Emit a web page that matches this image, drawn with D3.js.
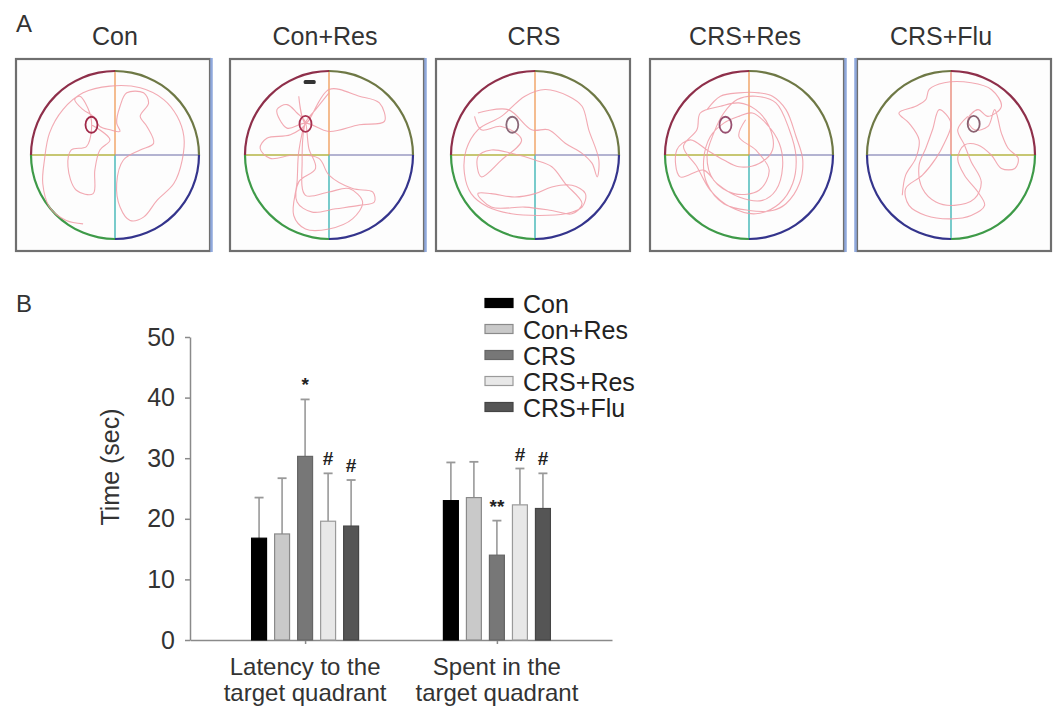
<!DOCTYPE html>
<html>
<head>
<meta charset="utf-8">
<script src="https://cdn.jsdelivr.net/npm/d3@7/dist/d3.min.js"></script>
<style>
  body { margin: 0; background: #fff; }
  svg { display: block; font-family: "Liberation Sans", Arial, sans-serif; }
</style>
</head>
<body>
<svg width="1063" height="726"></svg>
<script>
// ---- panel A data: swim tracks, in a 0-100 pool grid (50,50 = pool centre, radius 50)
var poolTitles = ["Con", "Con+Res", "CRS", "CRS+Res", "CRS+Flu"];

var trackCon = [[31,91],[21,89],[11,81],[7,67],[8,53],[11,37],[19,23],[31,13],[47,9],[65,10],[79,17],[87,27],
  [91,39],[90,53],[85,67],[75,77],[67,87],[59,89],[53,81],[51,67],[55,53],[65,47],[73,43],[69,33],[65,27],
  [70,19],[67,13],[57,13],[53,21],[51,31],[53,36],[47,35],[41,33],[37,27],[31,23],[26,17],[29,15],[35,25],
  [36,35],[33,45],[24,47],[22,57],[27,71],[37,73],[38,59],[41,47],[47,41],[36,32]];

var trackConRes = [[32,15],[36,31],[50,11],[68,15],[80,19],[83,30],[68,32],[50,36],[36,31],[25,34],[19,23],
  [25,20],[31,25],[36,31],[27,38],[13,40],[9,46],[15,52],[29,50],[44,52],[50,62],[64,70],[76,72],[77,78],
  [68,80],[54,82],[40,84],[31,78],[32,66],[42,58],[38,46],[36,31],[32,48],[31,66],[29,86],[36,94],[50,94],
  [64,88],[70,78],[62,70],[50,72],[36,74],[34,54],[36,31],[42,23],[50,13]];

var trackCRS = [[16,25],[34,23],[48,35],[58,35],[68,43],[78,49],[84,55],[87,63],[88,53],[82,35],[78,21],
  [70,15],[56,11],[44,15],[30,27],[16,35],[9,47],[8,61],[12,73],[22,81],[36,85],[52,86],[68,85],[78,81],
  [80,73],[72,68],[60,69],[50,73],[38,75],[24,73],[16,73],[24,81],[44,81],[60,83],[72,85],[78,79],[68,67],
  [60,57],[50,53],[36,49],[24,47],[16,51],[18,63],[30,53],[42,41],[30,33],[18,35],[14,27]];

var trackCRSRes = [[25,23],[33,15],[44,13],[56,13],[64,15],[72,23],[78,39],[82,53],[80,67],[72,79],[64,83],
  [50,83],[35,79],[25,67],[23,53],[27,39],[35,31],[44,27],[52,25],[60,31],[68,43],[70,57],[66,71],[58,77],
  [44,75],[31,67],[23,59],[9,63],[7,47],[15,41],[25,47],[35,53],[44,57],[56,55],[64,47],[62,33],[54,23],
  [44,19],[33,21],[21,25],[19,35],[11,45],[19,57],[27,71],[39,81],[54,85],[68,79],[76,67],[78,51],[74,35],
  [66,19],[54,15],[43,17],[35,25],[29,37],[25,51],[29,65],[41,73],[56,71],[62,59],[54,47],[44,39],[48,29]];

var trackCRSFlu = [[21,74],[23,62],[29,52],[31,41],[25,31],[19,25],[29,21],[35,17],[37,11],[46,7],[62,7],
  [74,11],[80,21],[72,27],[66,23],[60,29],[64,35],[72,33],[76,23],[80,37],[84,46],[90,52],[88,58],[80,58],
  [74,50],[66,44],[58,44],[54,52],[58,62],[66,72],[70,80],[62,86],[50,88],[35,86],[25,80],[23,70],[33,62],
  [41,52],[46,43],[50,31],[43,23],[39,35],[35,46],[31,56],[33,70],[41,78],[52,80],[64,76],[68,66],[62,54],
  [58,44],[54,35],[60,27]];

var tracks = [trackCon, trackConRes, trackCRS, trackCRSRes, trackCRSFlu];
var platforms = [[36, 32], [36, 31.5], [36.5, 32], [36, 32], [63.5, 31.5]];
var markerConRes = [38.5, 6.5];

// ---- panel B data
var series = ["Con", "Con+Res", "CRS", "CRS+Res", "CRS+Flu"];
var groups = ["latency", "spent"];
var groupLabels = [["Latency to the", "target quadrant"], ["Spent in the", "target quadrant"]];
var latencyMean = [16.8, 17.5, 30.3, 19.6, 18.8];
var latencySD = [6.7, 9.2, 9.4, 7.9, 7.6];
var spentMean = [23.0, 23.5, 14.0, 22.3, 21.7];
var spentSD = [6.3, 5.9, 5.7, 6.0, 5.8];
var latencyMarks = ["", "", "*", "#", "#"];
var spentMarks = ["", "", "**", "#", "#"];
var yTicks = [0, 10, 20, 30, 40, 50];

var svg = d3.select("svg");
var textCol = "#333";

// ================= panel A =================
svg.append("text").attr("x", 16).attr("y", 32).attr("font-size", 24).attr("fill", textCol).text("A");

var boxLeft = [16, 230, 436, 650, 857],
  poolCx = [115, 329, 535, 749, 951],
  titleX = [115, 325, 534, 745, 941],
  blueEdge = ["right", "right", null, "right", "left"],
  boxW = 194, boxTop = 59, boxH = 192, poolCy = 155, R = 84;

var quadNormal = ["#8e2f4a", "#6e7845", "#34348c", "#3e9a48"],   // TL, TR, BR, BL
  quadFlip = ["#6e7845", "#8e2f4a", "#3e9a48", "#34348c"];
var lineNormal = {top: "#f0a060", right: "#9a9ac2", bottom: "#3fb5b5", left: "#b5b545"},
  lineFlip = {top: "#e88a7a", right: "#b5b545", bottom: "#3fb5b5", left: "#9a9ac2"};
var platCol = ["#a02848", "#a83050", "#8a6878", "#985070", "#8a6070"];

var arc = d3.arc().innerRadius(R - 1.1).outerRadius(R + 1.1);

poolTitles.forEach(function(title, i) {
  var g = svg.append("g");
  var x = d3.scaleLinear().domain([0, 100]).range([poolCx[i] - R, poolCx[i] + R]);
  var y = d3.scaleLinear().domain([0, 100]).range([poolCy - R, poolCy + R]);

  g.append("text").attr("x", titleX[i]).attr("y", 45).attr("text-anchor", "middle")
    .attr("font-size", 25).attr("fill", textCol).text(title);

  g.append("rect").attr("x", boxLeft[i]).attr("y", boxTop).attr("width", boxW).attr("height", boxH)
    .attr("fill", "#fdfdfd").attr("stroke", "#6f6f6f").attr("stroke-width", 2.2);
  if (blueEdge[i]) {
    var ex = blueEdge[i] === "right" ? boxLeft[i] + boxW + 1.5 : boxLeft[i] - 1.5;
    g.append("line").attr("x1", ex).attr("x2", ex).attr("y1", boxTop - 1).attr("y2", boxTop + boxH + 1)
      .attr("stroke", "#8fa8dc").attr("stroke-width", 2.5);
  }

  var lc = i === 4 ? lineFlip : lineNormal;
  var cx = x(50), cy = y(50);
  [["top", cx, y(0)], ["bottom", cx, y(100)], ["left", x(0), cy], ["right", x(100), cy]].forEach(function(s) {
    g.append("line").attr("x1", cx).attr("y1", cy).attr("x2", s[1]).attr("y2", s[2])
      .attr("stroke", lc[s[0]]).attr("stroke-width", 1.4);
  });

  var qc = i === 4 ? quadFlip : quadNormal;
  var angles = [[-Math.PI / 2, 0], [0, Math.PI / 2], [Math.PI / 2, Math.PI], [Math.PI, 1.5 * Math.PI]];
  angles.forEach(function(a, k) {
    g.append("path").attr("transform", "translate(" + cx + "," + cy + ")")
      .attr("d", arc({startAngle: a[0], endAngle: a[1]})).attr("fill", qc[k]);
  });

  var line = d3.line().curve(d3.curveCatmullRom.alpha(0.5))
    .x(function(d) { return x(d[0]); }).y(function(d) { return y(d[1]); });
  g.append("path").attr("d", line(tracks[i])).attr("fill", "none")
    .attr("stroke", "#f09aa4").attr("stroke-width", 1.1).attr("opacity", 0.85);

  var p = platforms[i];
  g.append("ellipse").attr("cx", x(p[0])).attr("cy", y(p[1])).attr("rx", 6).attr("ry", 8)
    .attr("fill", "none").attr("stroke", platCol[i]).attr("stroke-width", 1.8);
  if (i === 1) {
    g.append("rect").attr("x", x(markerConRes[0]) - 6).attr("y", y(markerConRes[1]) - 2)
      .attr("width", 12).attr("height", 4).attr("rx", 1.5).attr("fill", "#333");
  }
});

// ================= panel B =================
svg.append("text").attr("x", 16).attr("y", 312).attr("font-size", 24).attr("fill", textCol).text("B");

var yScale = d3.scaleLinear().domain([0, 50]).range([640, 337]);
var xGroup = d3.scalePoint().domain(groups).range([190, 612]).padding(0.6);
var xBar = d3.scaleBand().domain(series).range([-53.5, 53.5]).paddingInner(0.35);

var fills = ["#000000", "#c9c9c9", "#777777", "#e8e8e8", "#555555"],
  strokes = ["#000000", "#8a8a8a", "#666666", "#9a9a9a", "#454545"];

var yAxis = svg.append("g").attr("transform", "translate(190,0)")
  .call(d3.axisLeft(yScale).tickValues(yTicks).tickSize(5).tickSizeOuter(0).tickPadding(10));
yAxis.selectAll("text").attr("font-size", 25).attr("fill", textCol).attr("font-family", "Liberation Sans, Arial");
yAxis.selectAll("line, path").attr("stroke", "#8a8a8a").attr("stroke-width", 1.5);

var xAxis = svg.append("g").attr("transform", "translate(0,640)")
  .call(d3.axisBottom(xGroup).tickSize(4).tickSizeOuter(0).tickFormat(""));
xAxis.selectAll("line, path").attr("stroke", "#8a8a8a").attr("stroke-width", 1.5);

svg.append("text").attr("transform", "translate(119,467) rotate(-90)").attr("text-anchor", "middle")
  .attr("font-size", 25).attr("fill", textCol).text("Time (sec)");

var groupData = [
  {key: "latency", mean: latencyMean, sd: latencySD, marks: latencyMarks},
  {key: "spent", mean: spentMean, sd: spentSD, marks: spentMarks}
];

groupData.forEach(function(gd, gi) {
  var g = svg.append("g").attr("transform", "translate(" + xGroup(gd.key) + ",0)");
  series.forEach(function(s, i) {
    var bx = xBar(s), bw = xBar.bandwidth(), mid = bx + bw / 2;
    var top = gd.mean[i] + gd.sd[i];
    g.append("line").attr("x1", mid).attr("x2", mid).attr("y1", yScale(gd.mean[i])).attr("y2", yScale(top))
      .attr("stroke", "#999").attr("stroke-width", 1.6);
    g.append("line").attr("x1", mid - 4.5).attr("x2", mid + 4.5).attr("y1", yScale(top)).attr("y2", yScale(top))
      .attr("stroke", "#999").attr("stroke-width", 1.8);
    g.append("rect").attr("x", bx).attr("y", yScale(gd.mean[i])).attr("width", bw)
      .attr("height", yScale(0) - yScale(gd.mean[i]))
      .attr("fill", fills[i]).attr("stroke", strokes[i]).attr("stroke-width", 1.2);
    if (gd.marks[i]) {
      g.append("text").attr("x", mid).attr("y", yScale(top) - 8).attr("text-anchor", "middle")
        .attr("font-size", 19).attr("font-weight", "bold").attr("fill", "#222").text(gd.marks[i]);
    }
  });
  groupLabels[gi].forEach(function(t, k) {
    g.append("text").attr("x", 0).attr("y", 675 + k * 26).attr("text-anchor", "middle")
      .attr("font-size", 24).attr("fill", textCol).text(t);
  });
});

// legend
var legend = svg.append("g");
series.forEach(function(s, i) {
  var yy = 303 + i * 26;
  legend.append("rect").attr("x", 485).attr("y", yy - 4.5).attr("width", 28).attr("height", 9)
    .attr("fill", fills[i]).attr("stroke", strokes[i]).attr("stroke-width", 1.2);
  legend.append("text").attr("x", 523).attr("y", yy + 9.5).attr("font-size", 25).attr("fill", "#222").text(s);
});
</script>
</body>
</html>
